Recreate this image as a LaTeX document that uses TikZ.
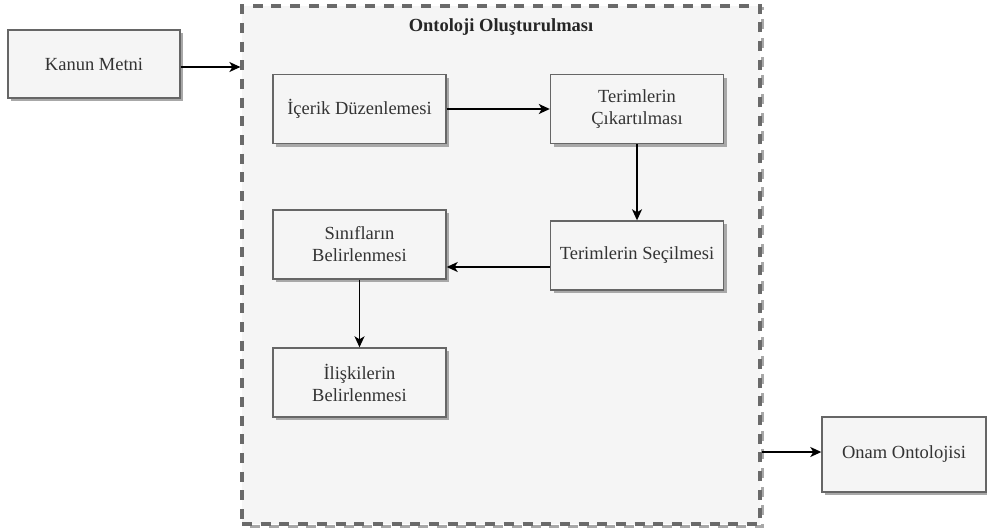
\documentclass[tikz,border=0pt]{standalone}
\usepackage{fontspec}
\setmainfont{Liberation Serif}
\usetikzlibrary{arrows.meta,shadows,positioning}
\definecolor{boxfill}{HTML}{F5F5F5}
\definecolor{boxline}{HTML}{666666}
\definecolor{dashcol}{HTML}{6A6A6A}
\definecolor{txt}{HTML}{333333}
\definecolor{shad}{HTML}{A8A8A8}
\begin{document}
\begin{tikzpicture}[x=1pt,y=-1pt,
  stepbox/.style={draw=boxline, line width=1.4pt, fill=boxfill, text=txt,
    minimum width=173pt, minimum height=69pt, inner sep=2pt, align=center,
    font=\fontsize{18.5}{22}\selectfont,
    drop shadow={shadow xshift=3pt, shadow yshift=-3pt, fill=shad, opacity=1}},
  arr/.style={-{Stealth[length=11pt,width=10pt,inset=3pt]}, line width=1.6pt, black}
]
\useasboundingbox (0,0) rectangle (987,530);
% container shadow
\draw[shad, line width=3.2pt, dash pattern=on 10pt off 8.7pt] (244.5,8.5) rectangle (762.5,526.5);
\node[draw=dashcol, fill=boxfill, line width=3.2pt, dash pattern=on 10pt off 8.7pt,
  minimum width=518pt, minimum height=518pt, inner sep=0pt] (cont) at (501,265) {};
\node[font=\bfseries\fontsize{18.5}{22}\selectfont, text=black!85] (title) at (501,27) {Ontoloji Oluşturulması};

\node[stepbox, minimum width=172pt, minimum height=68pt] (kanun) at (94,64) {Kanun Metni};
\node[stepbox] (icerik) at (359.5,109) {İçerik Düzenlemesi};
\node[stepbox] (cikar) at (637,109) {Terimlerin\\Çıkartılması};
\node[stepbox] (secil) at (637,255.5) {Terimlerin Seçilmesi};
\node[stepbox] (sinif) at (359.5,244.5) {Sınıfların\\Belirlenmesi};
\node[stepbox] (iliski) at (359.5,382.5) {İlişkilerin\\Belirlenmesi};
\node[stepbox, minimum width=164pt, minimum height=75pt] (onam) at (904,454.5) {Onam Ontolojisi};

\draw[arr] (kanun.east |- 0,67) -- (cont.west |- 0,67);
\draw[arr] (icerik) -- (cikar);
\draw[arr] (cikar) -- (secil);
\draw[arr] (secil.west |- 0,267) -- (sinif.east |- 0,267);
\draw[arr] (sinif) -- (iliski);
\draw[arr] (cont.east |- 0,452) -- (onam.west |- 0,452);
\end{tikzpicture}
\end{document}
